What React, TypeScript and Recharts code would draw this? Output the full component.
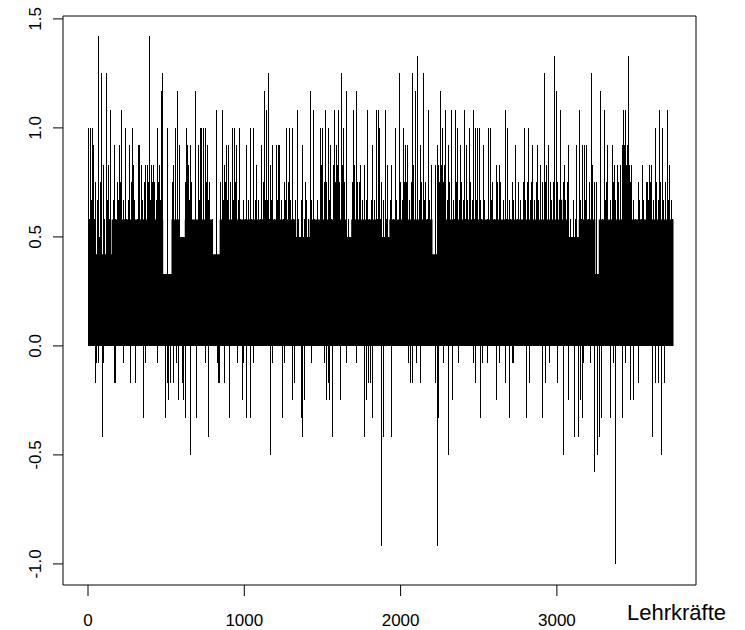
import { ComposedChart, Bar, Area, XAxis, YAxis, ReferenceArea } from "recharts";

// Lehrkräfte (index) vs. value, read off the R type="h" plot
// upward lines that stick out high above the dense black band
const spikesUp: [number, number][] = [
  [2, 1.0], [13, 1.0], [30, 1.0], [38, 0.92], [51, 0.75], [64, 1.42], [81, 0.75], [89, 1.25],
  [98, 0.83], [119, 1.25], [132, 0.83], [145, 1.08], [172, 0.92], [187, 0.75], [204, 0.92],
  [217, 1.08], [238, 1.0], [268, 0.92], [285, 1.0], [294, 0.83], [321, 0.92], [332, 0.92],
  [345, 0.83], [370, 0.83], [396, 1.42], [409, 0.83], [421, 0.83], [443, 1.0], [456, 0.83],
  [468, 1.17], [477, 1.25], [507, 1.0], [558, 1.0], [570, 1.17], [583, 0.92],
  [630, 1.0], [634, 0.92], [659, 0.92], [689, 1.17], [706, 0.92], [719, 1.0], [727, 1.0],
  [736, 1.0], [749, 1.0], [762, 0.92], [825, 1.08], [859, 1.08], [872, 0.83], [885, 0.92],
  [902, 0.92], [923, 1.0], [936, 1.0], [953, 0.92], [970, 1.0], [1013, 0.92], [1038, 1.0],
  [1059, 1.0], [1081, 0.83], [1111, 0.92], [1128, 1.17], [1140, 1.08], [1153, 1.25],
  [1166, 0.83], [1183, 0.92], [1204, 0.92], [1221, 0.92],
  [1226, 0.92], [1256, 0.75], [1273, 1.0], [1290, 1.0], [1307, 1.0], [1341, 1.08], [1375, 0.92],
  [1392, 0.75], [1422, 1.17], [1443, 1.08], [1486, 1.0], [1503, 1.0], [1520, 1.08], [1537, 1.0],
  [1549, 0.92], [1579, 1.08], [1592, 0.92], [1605, 1.08], [1622, 1.25], [1635, 1.0],
  [1652, 1.17], [1698, 1.08], [1715, 1.17], [1741, 0.83], [1771, 0.83], [1788, 1.08],
  [1822, 0.92], [1843, 1.08], [1856, 1.08],
  [1864, 1.0], [1877, 0.75], [1902, 1.08], [1915, 0.83], [1945, 0.83], [1966, 1.0], [1996, 1.25],
  [2017, 1.0], [2030, 0.92], [2047, 0.92], [2073, 1.25], [2098, 1.17], [2111, 1.33], [2128, 0.92],
  [2145, 1.25], [2162, 0.75], [2179, 1.08], [2196, 0.83], [2222, 0.83], [2239, 0.92],
  [2256, 1.17], [2268, 1.0], [2290, 1.08], [2307, 0.92], [2328, 1.08], [2353, 1.08], [2366, 1.0],
  [2383, 0.92], [2409, 1.08], [2422, 0.92], [2443, 1.0], [2464, 1.08], [2477, 1.0], [2494, 1.0],
  [2502, 1.0], [2528, 0.92], [2562, 1.0], [2574, 1.0], [2591, 0.75], [2672, 1.08], [2685, 1.0],
  [2715, 0.75], [2736, 0.92], [2757, 0.75], [2791, 1.0], [2817, 1.0], [2847, 0.92], [2877, 0.92],
  [2894, 0.83], [2919, 1.25], [2949, 0.92], [2987, 1.33], [2996, 1.17], [3021, 1.08],
  [3047, 0.83], [3072, 0.92], [3128, 0.92],
  [3144, 1.08], [3166, 0.92], [3178, 0.92], [3191, 0.92], [3221, 1.25], [3255, 0.75],
  [3276, 1.17], [3302, 1.08], [3327, 0.92], [3353, 0.92], [3366, 0.83], [3387, 0.83],
  [3404, 0.83], [3429, 1.08], [3438, 1.08], [3459, 1.33], [3476, 0.83], [3519, 0.75],
  [3549, 0.83], [3578, 0.75], [3591, 0.83], [3608, 0.83], [3629, 1.0], [3655, 1.08],
  [3676, 1.0], [3706, 1.08], [3719, 0.83],
];

// lines that rise just above the solid part of the band
const spikesMid: [number, number][] = [
  [8, 0.58], [20, 0.67], [44, 0.58], [58, 0.67], [72, 0.5], [108, 0.58], [126, 0.67], [140, 0.58],
  [160, 0.67], [178, 0.58], [195, 0.67], [210, 0.75], [230, 0.67], [248, 0.58], [262, 0.67],
  [278, 0.75], [300, 0.67], [315, 0.58], [340, 0.75], [350, 0.67], [362, 0.75], [378, 0.83],
  [386, 0.75], [402, 0.67], [415, 0.75], [428, 0.75], [436, 0.67], [450, 0.75], [462, 0.67],
  [474, 0.75], [540, 0.75], [550, 0.83], [562, 0.75], [575, 0.67],
  [622, 0.75], [640, 0.83], [648, 0.67], [664, 0.75], [712, 0.67], [724, 0.75], [742, 0.67],
  [755, 0.75], [768, 0.67], [780, 0.75], [795, 0.58], [848, 0.75], [866, 0.67], [880, 0.75],
  [893, 0.67], [910, 0.75], [928, 0.67], [944, 0.75], [960, 0.67], [978, 0.58], [992, 0.67],
  [1005, 0.58], [1025, 0.67], [1048, 0.58], [1070, 0.67], [1090, 0.67], [1104, 0.58],
  [1120, 0.75], [1135, 0.67], [1148, 0.67], [1160, 0.58], [1175, 0.67], [1195, 0.58], [1212, 0.67],
  [1235, 0.67], [1250, 0.58], [1265, 0.67], [1280, 0.75], [1298, 0.67], [1315, 0.58], [1325, 0.67],
  [1350, 0.58], [1365, 0.67], [1384, 0.58], [1400, 0.67], [1410, 0.58], [1430, 0.67],
  [1452, 0.58], [1466, 0.67], [1490, 0.75], [1497, 0.83], [1510, 0.75], [1525, 0.75],
  [1545, 0.67], [1557, 0.58], [1570, 0.83], [1584, 0.75], [1596, 0.83], [1612, 0.75],
  [1628, 0.83], [1640, 0.75], [1665, 0.58], [1690, 0.75], [1705, 0.83], [1722, 0.75],
  [1735, 0.75], [1755, 0.67], [1780, 0.67], [1800, 0.58], [1815, 0.67], [1835, 0.67], [1850, 0.58],
  [1870, 0.58], [1892, 0.67], [1910, 0.58], [1935, 0.67], [1955, 0.58], [1975, 0.67],
  [2000, 0.75], [2010, 0.67], [2024, 0.75], [2040, 0.75], [2058, 0.67], [2068, 0.75],
  [2085, 0.83], [2105, 0.75], [2120, 0.67], [2135, 0.75], [2150, 0.67], [2170, 0.58],
  [2188, 0.67], [2245, 0.83], [2252, 0.75], [2262, 0.83], [2275, 0.75], [2284, 0.83],
  [2298, 0.67], [2315, 0.75], [2338, 0.67], [2348, 0.58], [2360, 0.75], [2376, 0.67],
  [2392, 0.75], [2402, 0.67], [2415, 0.58], [2430, 0.67], [2450, 0.75], [2458, 0.67],
  [2470, 0.58], [2486, 0.67],
  [2510, 0.67], [2520, 0.58], [2540, 0.67], [2555, 0.58], [2580, 0.67], [2598, 0.58],
  [2612, 0.83], [2620, 0.75], [2630, 0.83], [2640, 0.75], [2660, 0.67], [2678, 0.58],
  [2695, 0.67], [2705, 0.58], [2725, 0.67], [2745, 0.58], [2765, 0.67], [2785, 0.75],
  [2800, 0.67], [2810, 0.75], [2830, 0.67], [2840, 0.75], [2858, 0.67], [2870, 0.75],
  [2885, 0.67], [2905, 0.75], [2925, 0.75], [2935, 0.83], [2958, 0.75], [2968, 0.67],
  [2978, 0.75], [3005, 0.75], [3040, 0.75], [3055, 0.67], [3065, 0.75], [3090, 0.58],
  [3105, 0.67], [3120, 0.58],
  [3150, 0.67], [3160, 0.58], [3185, 0.67], [3200, 0.58], [3210, 0.75], [3228, 0.83],
  [3240, 0.75], [3280, 0.67], [3295, 0.58], [3310, 0.67], [3320, 0.75], [3340, 0.67],
  [3360, 0.75], [3375, 0.67], [3395, 0.75], [3410, 0.67], [3420, 0.92], [3425, 0.83],
  [3434, 0.92], [3445, 0.83], [3452, 0.92], [3465, 0.83], [3472, 0.75], [3490, 0.67],
  [3505, 0.58], [3528, 0.67], [3540, 0.58], [3556, 0.67], [3572, 0.75], [3585, 0.67],
  [3600, 0.75], [3618, 0.67], [3640, 0.75], [3648, 0.67], [3662, 0.75], [3685, 0.67],
  [3695, 0.75], [3712, 0.67], [3732, 0.67], [3742, 0.58],
];

// lines below zero
const spikesDown: [number, number][] = [
  [45, -0.17], [55, -0.08], [68, -0.08], [90, -0.42], [102, -0.08], [168, -0.17], [179, -0.17],
  [226, -0.08], [272, -0.17], [307, -0.17], [353, -0.33], [366, -0.08], [444, -0.08],
  [498, -0.33], [508, -0.17], [515, -0.25], [528, -0.17], [545, -0.17], [566, -0.08], [579, -0.25],
  [604, -0.17], [613, -0.25], [625, -0.33], [655, -0.5], [691, -0.33], [753, -0.08], [770, -0.42],
  [826, -0.08], [834, -0.17], [842, -0.17], [876, -0.17], [906, -0.33], [955, -0.08],
  [987, -0.25], [996, -0.08], [1017, -0.33], [1040, -0.33], [1061, -0.08], [1168, -0.5],
  [1179, -0.08],
  [1247, -0.33], [1260, -0.08], [1311, -0.25], [1320, -0.17], [1366, -0.33], [1371, -0.42],
  [1388, -0.25], [1430, -0.08], [1511, -0.08], [1524, -0.25], [1539, -0.17], [1545, -0.25],
  [1562, -0.42], [1613, -0.25], [1654, -0.08], [1717, -0.08], [1767, -0.42], [1779, -0.25],
  [1792, -0.17], [1805, -0.17], [1818, -0.33],
  [1881, -0.92], [1890, -0.42], [1941, -0.42], [2051, -0.08], [2064, -0.17], [2077, -0.17],
  [2100, -0.08], [2130, -0.17], [2226, -0.17], [2236, -0.92], [2243, -0.33], [2273, -0.08],
  [2309, -0.5], [2330, -0.25], [2371, -0.08], [2466, -0.08], [2479, -0.17],
  [2511, -0.33], [2523, -0.08], [2553, -0.08], [2613, -0.25], [2630, -0.08], [2674, -0.17],
  [2694, -0.33], [2717, -0.08], [2723, -0.08], [2804, -0.33], [2826, -0.17], [2906, -0.33],
  [2928, -0.17], [2953, -0.08], [3004, -0.17], [3043, -0.5], [3074, -0.25], [3111, -0.42],
  [3136, -0.42],
  [3140, -0.17], [3153, -0.25], [3161, -0.33], [3170, -0.08], [3212, -0.08], [3238, -0.58],
  [3259, -0.5], [3272, -0.42], [3285, -0.33], [3340, -0.33], [3361, -0.08], [3374, -1.0],
  [3417, -0.33], [3440, -0.08], [3468, -0.25], [3493, -0.25], [3523, -0.17], [3610, -0.42],
  [3634, -0.17], [3651, -0.17], [3668, -0.5], [3689, -0.17],
];

// top of the solid black mass (x where the level starts, level)
const bandTop: [number, number][] = [
  [0, 0.42], [151, 0.58], [481, 0.33], [534, 0.58],
  [587, 0.5], [619, 0.58], [800, 0.42], [842, 0.58],
  [1332, 0.5], [1418, 0.58], [1652, 0.5], [1684, 0.58],
  [1864, 0.5], [1928, 0.58], [2204, 0.42], [2236, 0.58],
  [3013, 0.67], [3034, 0.58], [3077, 0.5],
  [3140, 0.58], [3246, 0.33], [3268, 0.58], [3417, 0.67], [3480, 0.58], [3746, 0.58],
];

const xTicks = [0, 1000, 2000, 3000];
const yTicks = [-1, -0.5, 0, 0.5, 1, 1.5];

const spikeRows = [...spikesUp, ...spikesMid, ...spikesDown]
  .map(([x, v]) => ({ x, v }))
  .sort((a, b) => a.x - b.x);
const bandRows = bandTop.map(([x, top]) => ({ x, top }));

const FONT = "'Liberation Sans', Arial, sans-serif";
const X_DOMAIN: [number, number] = [-160, 3890];
const Y_DOMAIN: [number, number] = [-1.0967, 1.5133];

// one crisp 1px line per observation, like R's type = "h"
function Stick({ x, y, width, height }: any) {
  if (height == null || width == null) return null;
  const top = Math.min(y, y + height);
  const h = Math.abs(height);
  const px = Math.floor(x + width / 2);
  return <rect x={px} y={top} width={1} height={h} fill="#000" shapeRendering="crispEdges" />;
}

function YTick({ x, y, payload }: any) {
  return (
    <g transform={`translate(${x - 10},${y}) rotate(-90)`}>
      <text textAnchor="middle" fontFamily={FONT} fontSize={17} fill="#000">
        {Number(payload.value).toFixed(1)}
      </text>
    </g>
  );
}

function XTick({ x, y, payload }: any) {
  return (
    <text x={x} y={y + 28} textAnchor="middle" fontFamily={FONT} fontSize={17} fill="#000">
      {payload.value}
    </text>
  );
}

function AxisTitle({ viewBox }: any) {
  return (
    <text
      x={viewBox.x + viewBox.width - 69}
      y={viewBox.y + 35}
      fontFamily={FONT}
      fontSize={22}
      fill="#000"
    >
      Lehrkräfte
    </text>
  );
}

export default function App() {
  return (
    <div style={{ position: "absolute", left: 0, top: 0, background: "#fff" }}>
      <ComposedChart
        width={745}
        height={630}
        data={spikeRows}
        margin={{ top: 16, right: 49, bottom: 0, left: 0 }}
      >
        <XAxis
          dataKey="x"
          type="number"
          domain={X_DOMAIN}
          ticks={xTicks}
          allowDataOverflow
          height={45}
          axisLine={false}
          tickSize={11}
          tickLine={{ stroke: "#000" }}
          tick={<XTick />}
          label={<AxisTitle />}
        />
        <YAxis
          type="number"
          domain={Y_DOMAIN}
          ticks={yTicks}
          allowDataOverflow
          width={63}
          axisLine={false}
          tickSize={10}
          tickLine={{ stroke: "#000" }}
          tick={<YTick />}
        />
        <Area
          data={bandRows}
          dataKey="top"
          type="stepAfter"
          baseValue={0}
          fill="#000"
          fillOpacity={1}
          stroke="none"
          isAnimationActive={false}
        />
        <Bar dataKey="v" barSize={1} shape={<Stick />} isAnimationActive={false} />
        <ReferenceArea
          x1={X_DOMAIN[0]}
          x2={X_DOMAIN[1]}
          y1={Y_DOMAIN[0]}
          y2={Y_DOMAIN[1]}
          fill="none"
          stroke="#000"
          strokeWidth={1}
        />
      </ComposedChart>
    </div>
  );
}
